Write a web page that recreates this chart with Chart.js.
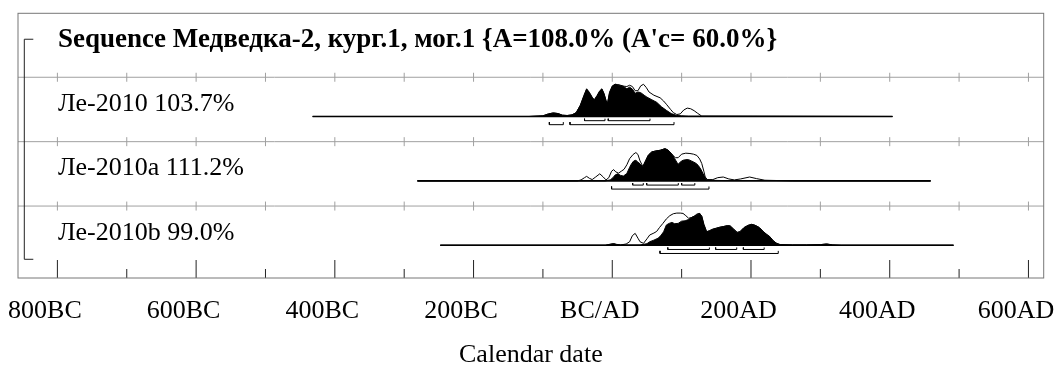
<!DOCTYPE html>
<html>
<head>
<meta charset="utf-8">
<script src="https://cdn.jsdelivr.net/npm/chart.js@4.4.1/dist/chart.umd.min.js"></script>
<style>
  html, body { margin: 0; padding: 0; background: #fff; }
  #wrap { width: 1056px; height: 376px; }
</style>
</head>
<body>
<div id="wrap"><canvas id="oxcalChart"></canvas></div>
<script>
// axis years (100 yr ticks, labelled every 200)
var yearTicks = [-800, -700, -600, -500, -400, -300, -200, -100, 0, 100, 200, 300, 400, 500, 600];

var titleText = "Sequence Медведка-2, кург.1, мог.1 {A=108.0% (A'c= 60.0%}";
var rowLabels = ["Ле-2010 103.7%", "Ле-2010a 111.2%", "Ле-2010b 99.0%"];

// [year, relative probability]
var le2010Prior = [[-432,0],[-120,0],[-100,0.02],[-92,0.08],[-85,0.11],[-78,0.09],[-72,0.04],[-65,0.03],[-58,0.05],[-52,0.12],[-46,0.35],[-41,0.62],[-37,0.84],[-33,0.72],[-29,0.58],[-26,0.5],[-22,0.62],[-18,0.78],[-15,0.85],[-12,0.7],[-9,0.48],[-7,0.38],[-4,0.72],[0,0.93],[4,1.0],[8,0.99],[12,0.97],[17,0.94],[21,0.93],[25,0.97],[29,0.93],[33,0.8],[37,0.8],[41,0.95],[45,1.0],[49,0.9],[53,0.76],[60,0.66],[69,0.58],[74,0.48],[78,0.38],[84,0.22],[88,0.12],[93,0.06],[98,0.08],[103,0.2],[108,0.26],[113,0.24],[118,0.18],[123,0.1],[129,0.01],[404,0]];
var le2010Post = [[-432,0],[-120,0],[-100,0.02],[-92,0.08],[-85,0.11],[-78,0.09],[-72,0.04],[-65,0.03],[-58,0.05],[-52,0.12],[-46,0.35],[-41,0.65],[-37,0.86],[-33,0.75],[-29,0.6],[-26,0.52],[-22,0.65],[-18,0.8],[-15,0.86],[-12,0.72],[-9,0.5],[-7,0.4],[-4,0.75],[0,0.95],[4,1.0],[8,0.98],[12,0.96],[17,0.92],[21,0.86],[25,0.91],[29,0.85],[33,0.72],[37,0.76],[41,0.74],[46,0.66],[50,0.6],[57,0.52],[64,0.44],[71,0.3],[78,0.19],[85,0.09],[93,0.03],[100,0.02],[110,0.01],[404,0]];

var le2010aPrior = [[-281,0],[-50,0],[-45,0.03],[-40,0.1],[-37,0.14],[-33,0.08],[-29,0.04],[-24,0.12],[-18,0.22],[-13,0.12],[-9,0.03],[-5,0.1],[-1,0.3],[2,0.35],[5,0.28],[9,0.24],[13,0.3],[17,0.36],[21,0.5],[25,0.69],[30,0.82],[34,0.88],[37,0.82],[40,0.62],[44,0.45],[48,0.62],[52,0.8],[57,0.9],[63,0.93],[69,0.95],[76,1.0],[80,0.96],[83,0.9],[87,0.8],[91,0.72],[95,0.72],[100,0.83],[106,0.86],[112,0.85],[117,0.83],[122,0.79],[126,0.68],[129,0.54],[132,0.3],[134,0.12],[137,0.04],[145,0.04],[152,0.1],[160,0.12],[168,0.06],[176,0.03],[185,0.06],[198,0.12],[208,0.07],[220,0.02],[260,0],[459,0]];
var le2010aPost = [[-281,0],[-10,0],[-3,0.03],[1,0.1],[4,0.18],[8,0.22],[12,0.17],[16,0.15],[21,0.23],[25,0.42],[28,0.54],[31,0.62],[34,0.64],[37,0.58],[40,0.53],[44,0.43],[48,0.62],[52,0.8],[57,0.9],[63,0.93],[69,0.95],[76,1.0],[80,0.96],[83,0.9],[87,0.8],[90,0.69],[93,0.58],[95,0.52],[99,0.6],[102,0.64],[106,0.66],[110,0.66],[114,0.62],[117,0.59],[121,0.54],[124,0.48],[128,0.35],[131,0.22],[134,0.1],[136,0.04],[140,0.02],[160,0.01],[200,0.01],[459,0]];

var le2010bPrior = [[-248,0],[-10,0],[-2,0.04],[2,0.05],[6,0.02],[12,0.01],[20,0.04],[25,0.11],[29,0.3],[33,0.37],[37,0.22],[40,0.11],[45,0.06],[50,0.2],[54,0.32],[60,0.38],[64,0.43],[68,0.55],[73,0.68],[78,0.82],[83,0.92],[88,0.98],[93,1.0],[98,1.0],[102,0.99],[106,0.92],[110,0.84],[114,0.86],[118,0.9],[122,0.97],[126,0.99],[129,0.9],[132,0.65],[136,0.42],[140,0.45],[145,0.5],[150,0.53],[155,0.56],[160,0.58],[166,0.61],[170,0.6],[175,0.5],[180,0.4],[184,0.42],[190,0.55],[196,0.62],[201,0.65],[206,0.62],[212,0.55],[218,0.42],[223,0.33],[227,0.27],[232,0.14],[237,0.06],[242,0.02],[260,0.01],[280,0.01],[300,0.02],[309,0.04],[318,0.01],[330,0],[492,0]];
var le2010bPost = [[-248,0],[-10,0],[-2,0.03],[2,0.05],[6,0.03],[12,0.01],[40,0.01],[50,0.05],[54,0.11],[60,0.16],[66,0.22],[70,0.3],[74,0.42],[78,0.63],[82,0.68],[86,0.71],[90,0.67],[95,0.68],[100,0.75],[105,0.76],[110,0.8],[114,0.86],[118,0.9],[122,0.95],[126,0.99],[129,0.9],[132,0.65],[136,0.42],[140,0.45],[145,0.5],[150,0.53],[155,0.56],[160,0.58],[166,0.61],[170,0.6],[175,0.5],[180,0.4],[184,0.42],[190,0.55],[196,0.62],[201,0.65],[206,0.62],[212,0.55],[218,0.42],[223,0.33],[227,0.27],[232,0.14],[237,0.06],[242,0.02],[260,0.01],[280,0.01],[300,0.02],[309,0.04],[318,0.01],[330,0],[492,0]];

// highest posterior density ranges
var le2010R68 = [[-40,-10.5],[-5.8,54.4]];
var le2010R95 = [[-90.7,-70.6],[-61,89]];
var le2010aR68 = [[29.4,44.7],[49.6,95.2],[100,119]];
var le2010aR95 = [[-1,139.4]];
var le2010bR68 = [[80,140],[149,179.4],[189,219]];
var le2010bR95 = [[68.8,239.3]];

var FONT = "'Liberation Serif', 'Times New Roman', serif";
var ROW_PX = 64.4;   // pixels per row unit
var SEP = 1.117;     // separator offset inside a row
var BASE = 0.508;    // distribution baseline inside a row
var PEAK = 0.5;      // height of p=1 in row units

function curve(pairs, base) {
  return pairs.map(function (p) { return { x: p[0], y: base + p[1] * PEAK }; });
}
function span(pairs, base) {
  return [{ x: pairs[0][0], y: base }, { x: pairs[pairs.length - 1][0], y: base }];
}
function bracket(ranges, base, drop, lift) {
  var pts = [];
  ranges.forEach(function (r) {
    var yl = base - drop / ROW_PX, yt = base - (drop - lift) / ROW_PX;
    pts.push({ x: r[0], y: yt }, { x: r[0], y: yl }, { x: r[1], y: yl }, { x: r[1], y: yt }, { x: r[1], y: null });
  });
  return pts;
}

var rows = [
  { k: 2, prior: le2010Prior, post: le2010Post, r68: le2010R68, r95: le2010R95 },
  { k: 1, prior: le2010aPrior, post: le2010aPost, r68: le2010aR68, r95: le2010aR95 },
  { k: 0, prior: le2010bPrior, post: le2010bPost, r68: le2010bR68, r95: le2010bR95 }
];

var datasets = [];
rows.forEach(function (r) {
  var base = r.k + BASE;
  datasets.push({ data: curve(r.post, base), fill: { value: base }, backgroundColor: "#000", borderColor: "#000", borderWidth: 1, order: 1 });
  datasets.push({ data: curve(r.prior, base), fill: false, borderColor: "#000", borderWidth: 1, order: 2 });
  datasets.push({ data: span(r.post, base), borderColor: "#000", borderWidth: 1.6, order: 3 });
  datasets.push({ data: bracket(r.r68, base, 4.2, 2), borderColor: "#000", borderWidth: 1, order: 4 });
  datasets.push({ data: bracket(r.r95, base, 8.2, 2.6), borderColor: "#000", borderWidth: 1, order: 4 });
});

var oxcalDecor = {
  id: "oxcalDecor",
  beforeDatasetsDraw: function (chart) {
    var ctx = chart.ctx, a = chart.chartArea;
    var xs = chart.scales.x, ys = chart.scales.y;
    ctx.save();
    // row separators with small crosses
    ctx.strokeStyle = "#a0a0a0";
    ctx.lineWidth = 1;
    [0, 1, 2].forEach(function (k) {
      var y = ys.getPixelForValue(k + SEP);
      ctx.beginPath();
      ctx.moveTo(a.left, y); ctx.lineTo(a.right, y);
      yearTicks.forEach(function (v) {
        var x = xs.getPixelForValue(v);
        ctx.moveTo(x, y - 4.5); ctx.lineTo(x, y + 4.5);
      });
      ctx.stroke();
    });
    // bottom inward ticks
    ctx.strokeStyle = "#222";
    ctx.beginPath();
    yearTicks.forEach(function (v) {
      var x = xs.getPixelForValue(v);
      var len = v % 200 === 0 ? 18 : 9;
      ctx.moveTo(x, a.bottom); ctx.lineTo(x, a.bottom - len);
    });
    ctx.stroke();
    // sequence bracket
    ctx.beginPath();
    var top = ys.getPixelForValue(3 + SEP) + 26.4;
    var bot = ys.getPixelForValue(BASE) + 14;
    ctx.moveTo(a.left + 15.3, top); ctx.lineTo(a.left + 6.3, top);
    ctx.lineTo(a.left + 6.3, bot); ctx.lineTo(a.left + 15.3, bot);
    ctx.stroke();
    // frame
    ctx.strokeStyle = "#777";
    ctx.strokeRect(a.left, a.top, a.right - a.left, a.bottom - a.top);
    // texts
    ctx.fillStyle = "#000";
    ctx.textBaseline = "alphabetic";
    ctx.textAlign = "left";
    ctx.font = "bold 27px " + FONT;
    ctx.fillText(titleText, a.left + 40, ys.getPixelForValue(3 + SEP) + 33.7);
    ctx.font = "26px " + FONT;
    rows.forEach(function (r, i) {
      ctx.fillText(rowLabels[i], a.left + 40, ys.getPixelForValue(r.k + SEP) + 33.7);
    });
    ctx.restore();
  }
};

new Chart(document.getElementById("oxcalChart").getContext("2d"), {
  type: "line",
  data: { datasets: datasets },
  options: {
    responsive: true,
    maintainAspectRatio: false,
    animation: false,
    devicePixelRatio: 1,
    layout: { padding: { left: 18, right: 12.3, top: 13.3, bottom: 0 } },
    elements: { point: { radius: 0 }, line: { tension: 0 } },
    plugins: { legend: { display: false }, tooltip: { enabled: false } },
    scales: {
      x: {
        type: "linear",
        min: -856.8,
        max: 622,
        grid: { display: false },
        border: { display: false },
        afterBuildTicks: function (scale) {
          scale.ticks = yearTicks.map(function (v) { return { value: v }; });
        },
        afterFit: function (scale) {
          scale.paddingLeft = 0;
          scale.paddingRight = 0;
          scale.height = 98;
        },
        ticks: {
          autoSkip: false,
          maxRotation: 0,
          padding: 10,
          labelOffset: -12.5,
          color: "#000",
          font: { family: FONT, size: 26 },
          callback: function (v) {
            if (v % 200 !== 0) return "";
            if (v === 0) return "BC/AD";
            return v < 0 ? (-v) + "BC" : v + "AD";
          }
        },
        title: {
          display: true,
          text: "Calendar date",
          color: "#000",
          font: { family: FONT, size: 26 },
          padding: { top: 0, bottom: 5 }
        }
      },
      y: { type: "linear", min: 0, max: 4.11, display: false }
    }
  },
  plugins: [oxcalDecor]
});
</script>
</body>
</html>
